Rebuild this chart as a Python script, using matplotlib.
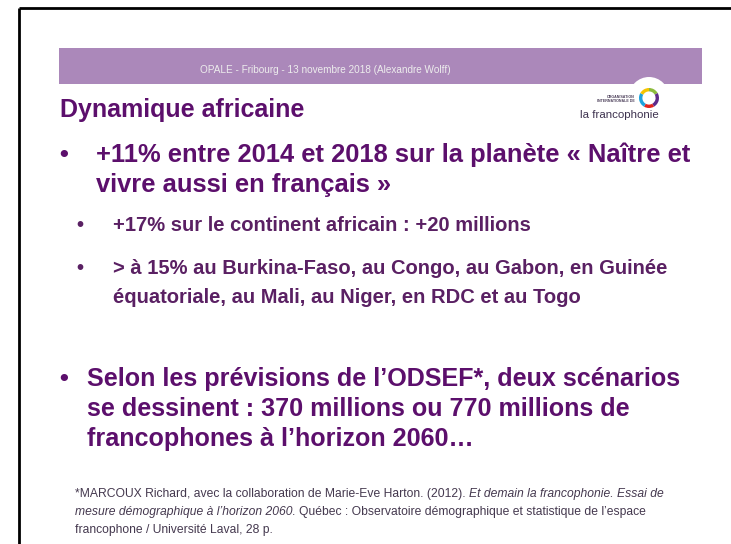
import matplotlib
matplotlib.use("Agg")
import matplotlib.pyplot as plt
from matplotlib.patches import Rectangle, Circle, Wedge

W, H = 731, 544

header_text = "OPALE - Fribourg - 13 novembre 2018 (Alexandre Wolff)"
title_text = "Dynamique africaine"
bullet1_lines = [
    "+11% entre 2014 et 2018 sur la planète « Naître et",
    "vivre aussi en français »",
]
sub1_lines = ["+17% sur le continent africain : +20 millions"]
sub2_lines = [
    "> à 15% au Burkina-Faso, au Congo, au Gabon, en Guinée",
    "équatoriale, au Mali, au Niger, en RDC et au Togo",
]
bullet2_lines = [
    "Selon les prévisions de l’ODSEF*, deux scénarios",
    "se dessinent : 370 millions ou 770 millions de",
    "francophones à l’horizon 2060…",
]
footnote_lines = [
    [("*MARCOUX Richard, avec la collaboration de Marie-Eve Harton. (2012).", "normal"),
     ("Et demain la francophonie. Essai de", "italic")],
    [("mesure démographique à l’horizon 2060.", "italic"),
     ("Québec : Observatoire démographique et statistique de l’espace", "normal")],
    [("francophone / Université Laval, 28 p.", "normal")],
]
logo_small = ["ORGANISATION", "INTERNATIONALE DE"]
logo_name = "la francophonie"
# ring segments, clockwise from the top: green, purple, red, blue, yellow
ring_colors = ["#8CBB3C", "#5E2B8A", "#E3241B", "#1EA2DD", "#F5C400"]
ring_spans = [(-90, -30), (-30, 60), (60, 120), (120, 210), (210, 270)]

band_color = "#AB88BA"
main_color = "#5C0F6C"
sub_color = "#5A2063"
note_color = "#45394F"
FONT = "Liberation Sans"

fig = plt.figure(figsize=(W / 100, H / 100), dpi=100)
ax = fig.add_axes([0, 0, 1, 1])
ax.set_xlim(0, W)
ax.set_ylim(H, 0)
ax.axis("off")
renderer = fig.canvas.get_renderer()


def text_w(s, size, **kw):
    t = ax.text(0, 0, s, fontsize=size, family=FONT, **kw)
    w = t.get_window_extent(renderer=renderer).width
    t.remove()
    return w


def fit(s, width, **kw):
    return 10 * width / text_w(s, 10, **kw)


# slide frame
ax.plot([19, 19], [7.5, H], color="black", lw=2.0, solid_capstyle="butt")
ax.plot([19, W], [7.5, 7.5], color="black", lw=2.0, solid_capstyle="butt")

# header band
ax.add_patch(Rectangle((59, 48), 643, 36, color=band_color, lw=0))
hs = fit(header_text, 252)
ax.text(200, 73, header_text, fontsize=hs, family=FONT, color="#EDEDED", va="baseline")

# logo
ax.add_patch(Circle((649, 97), 20, color="white", lw=0))
for c, (a1, a2) in zip(ring_colors, ring_spans):
    ax.add_patch(Wedge((649, 98), 10, a1, a2, width=3.4, color=c, lw=0))
ax.text(635, 98.5, logo_small[0], fontsize=2.6, family=FONT, weight="bold",
        color="#4A3D58", ha="right", va="baseline")
ax.text(635, 102.5, logo_small[1], fontsize=2.6, family=FONT, weight="bold",
        color="#4A3D58", ha="right", va="baseline")
ls = fit(logo_name, 79)
ax.text(580, 118.5, logo_name, fontsize=ls, family=FONT, color="#3E3350", va="baseline")

# title
ts = fit(title_text, 245, weight="bold")
ax.text(60, 117, title_text, fontsize=ts, family=FONT, weight="bold",
        color=main_color, va="baseline")


def paragraph(lines, x, baselines, size, color, bullet_x):
    ax.text(bullet_x, baselines[0], "•", fontsize=size, family=FONT, weight="bold",
            color=color, ha="center", va="baseline")
    for s, y in zip(lines, baselines):
        ax.text(x, y, s, fontsize=size, family=FONT, weight="bold",
                color=color, va="baseline")


main_size = fit(bullet1_lines[0], 595, weight="bold")
sub_size = fit(sub2_lines[0], 556, weight="bold")
second_size = fit(bullet2_lines[0], 595, weight="bold")
paragraph(bullet1_lines, 96, [162, 192], main_size, main_color, 64)
paragraph(sub1_lines, 113, [231], sub_size, sub_color, 80)
paragraph(sub2_lines, 113, [274, 303], sub_size, sub_color, 80)
paragraph(bullet2_lines, 87, [386, 416, 446], second_size, main_color, 64)

# footnote with italic runs
first = footnote_lines[0]
sp10 = text_w("a a", 10) - text_w("aa", 10)
w10 = sum(text_w(s, 10, style=st) for s, st in first) + sp10 * (len(first) - 1)
fs = 10 * 590 / w10
sp = sp10 * fs / 10
for runs, y in zip(footnote_lines, [497, 515, 533]):
    x = 75
    for s, st in runs:
        ax.text(x, y, s, fontsize=fs, family=FONT, style=st, color=note_color, va="baseline")
        x += text_w(s, fs, style=st) + sp

fig.savefig("out.png", dpi=100)
